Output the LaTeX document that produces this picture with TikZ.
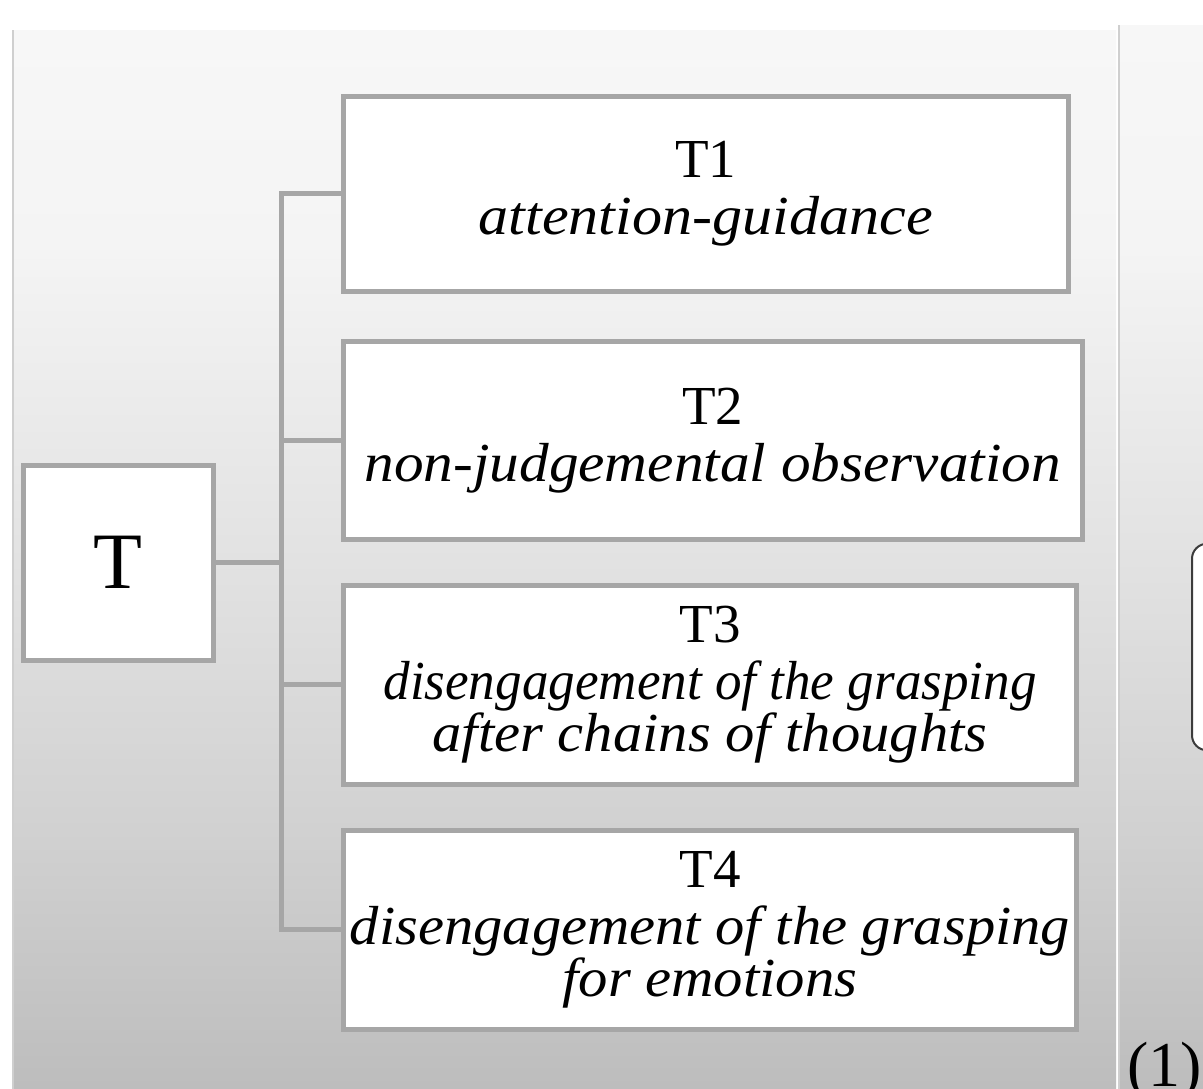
\documentclass[tikz,border=0pt]{standalone}
\usepackage{fontspec}
\setmainfont{Liberation Serif}
\usetikzlibrary{calc}

\definecolor{boxline}{HTML}{A6A6A6}
\definecolor{edgeshadow}{HTML}{CFCFCF}
\definecolor{roundline}{HTML}{3C3C3C}
\definecolor{pA}{RGB}{247,247,247}
\definecolor{pB}{RGB}{244,244,244}
\definecolor{pC}{RGB}{226,226,226}
\definecolor{pD}{RGB}{209,209,209}
\definecolor{pE}{RGB}{188,188,188}

% light-to-mid grey backdrop, lighter at the top
\pgfdeclareverticalshading{panelshade}{100bp}{%
  color(0bp)=(pE); color(25bp)=(pE); color(37.6bp)=(pD);
  color(50.2bp)=(pC); color(64.7bp)=(pB); color(75bp)=(pA); color(100bp)=(pA)}

% one italic line squeezed or stretched to a given width
\newcommand{\wline}[2]{\resizebox{#1pt}{\height}{\textit{#2}}}

\begin{document}
\begin{tikzpicture}[x=1pt,y=-1pt,
  tbox/.style={draw=boxline, line width=5pt, fill=white, inner sep=0pt,
    align=center, font=\fontsize{55}{49}\selectfont},
  link/.style={draw=boxline, line width=5pt}]

\useasboundingbox (0,0) rectangle (1203,1088);
\clip (0,0) rectangle (1203,1088);
\fill[white] (0,0) rectangle (1203,1088);

% backdrop panels
\shade[shading=panelshade] (12,30) rectangle (1116,1100);
\draw[edgeshadow, line width=1.5pt] (12.75,1100) -- (12.75,30);
\shade[shading=panelshade] (1118,25) rectangle (1220,1100);
\draw[edgeshadow, line width=1.5pt] (1118.75,1100) -- (1118.75,25);

% root and the four branches
\node[tbox, minimum width=189.5pt, minimum height=195pt,
  font=\fontsize{80}{80}\selectfont] (T) at (118.25,562.5) {T};

\node[tbox, minimum width=724.5pt, minimum height=195pt] (T1) at (705.75,193.5)
  {T1\\[8pt]\wline{454}{attention-guidance}};
\node[tbox, minimum width=738.5pt, minimum height=198.5pt] (T2) at (712.75,440.25)
  {T2\\[8pt]\wline{696}{non-judgemental observation}};
\node[tbox, minimum width=733pt, minimum height=198.5pt] (T3) at (710,684.75)
  {T3\\[8pt]\wline{653}{disengagement of the grasping}\\
   \wline{555}{after chains of thoughts}};
\node[tbox, minimum width=733pt, minimum height=199.5pt] (T4) at (710,929.75)
  {T4\\[8pt]\wline{720}{disengagement of the grasping}\\
   \wline{295}{for emotions}};

% bracket connectors
\coordinate (bus) at (281,0);
\draw[link] (T.east) -- (T.east -| bus);
\draw[link, line cap=rect] (T1.west -| bus) -- (T4.west -| bus);
\foreach \n in {T1,T2,T3,T4}
  \draw[link] (\n.west -| bus) -- (\n.west);

% neighbouring panel content
\node[draw=roundline, line width=2pt, fill=white, rounded corners=15pt,
  minimum width=80pt, minimum height=206.5pt, anchor=west] (side) at (1191,647) {};
\node[anchor=base west, inner sep=0pt, font=\fontsize{64}{64}\selectfont]
  (num) at (1127,1086) {(1)};
\end{tikzpicture}
\end{document}
